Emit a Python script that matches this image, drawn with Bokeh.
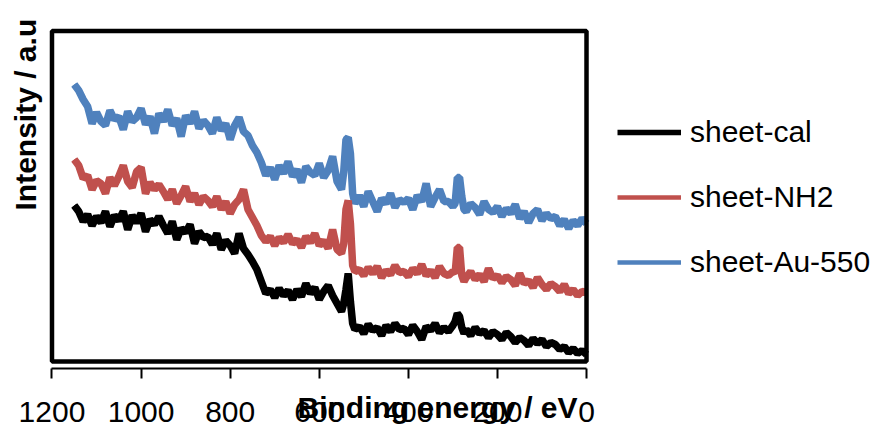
import math
from bokeh.plotting import figure
from bokeh.models import Range1d, FixedTicker, Label, BoxAnnotation, Legend, LinearAxis
from bokeh.embed import file_html
from bokeh.resources import INLINE

# Binding energy grid (eV)
energy = [1150, 1140, 1130, 1120, 1110, 1100, 1090, 1080, 1070, 1060,
          1050, 1040, 1030, 1020, 1010, 1000, 990, 980, 970, 960,
          950, 940, 930, 920, 910, 900, 890, 880, 870, 860,
          850, 840, 830, 820, 810, 800, 790, 780, 770, 760,
          750, 740, 730, 720, 710, 700, 690, 680, 670, 660,
          650, 640, 630, 620, 610, 600, 590, 580, 570, 560,
          550, 545, 540, 535, 530, 525, 520,
          510, 500, 490, 480, 470, 460, 450, 440, 430, 420,
          410, 400, 390, 380, 370, 360, 350, 340, 330, 320,
          310, 300,
          295, 290, 285, 280, 275,
          270, 260, 250, 240, 230, 220, 210, 200, 190, 180,
          170, 160, 150, 140, 130, 120, 110, 100, 90, 80,
          70, 60, 50, 40, 30, 20, 10, 0]

sheet_au_550 = [277, 271, 262, 255, 238, 249, 240, 236, 251, 242,
                245, 232, 250, 240, 244, 253, 237, 245, 228, 248,
                240, 252, 236, 243, 225, 246, 238, 250, 233, 241,
                236, 228, 244, 231, 238, 222, 236, 244, 230, 226,
                216, 209, 199, 186, 194, 182, 196, 188, 200, 185,
                192, 179, 195, 189, 186, 198, 184, 191, 205, 180,
                172, 190, 222, 224, 208, 168, 158,
                166, 155, 170, 160, 150, 163, 158, 168, 154, 162,
                159, 163, 152, 166, 160, 178, 155, 164, 172, 160,
                160, 155,
                158, 184, 184, 165, 152,
                150, 158, 154, 147, 160, 152, 149, 155, 145, 153,
                148, 157, 143, 150, 139, 148, 152, 141, 148, 143,
                145, 136, 142, 133, 141, 136, 143, 138]

sheet_nh2 = [202, 196, 183, 186, 172, 181, 178, 168, 184, 176,
             185, 196, 180, 174, 190, 194, 168, 179, 172, 177,
             170, 162, 172, 158, 166, 175, 160, 168, 157, 165,
             161, 155, 165, 152, 160, 148, 157, 162, 172, 152,
             144, 136, 126, 120, 125, 116, 124, 119, 127, 118,
             122, 114, 125, 119, 128, 116, 121, 113, 132, 112,
             108, 118, 152, 161, 138, 96, 90,
             92, 86, 94, 88, 95, 84, 91, 87, 96, 89,
             90, 85, 93, 88, 97, 86, 91, 84, 95, 88,
             86, 90,
             88, 114, 114, 86, 80,
             84, 90, 82, 87, 80, 93, 83, 86, 79, 85,
             82, 76, 88, 78, 81, 74, 84, 77, 72, 78,
             75, 70, 77, 68, 72, 66, 70, 69]

sheet_cal = [156, 150, 140, 147, 136, 145, 139, 150, 135, 146,
             141, 150, 132, 146, 139, 148, 130, 142, 137, 145,
             136, 128, 140, 122, 133, 129, 137, 118, 130, 124,
             125, 117, 128, 112, 121, 116, 108, 128, 113, 107,
             100, 92, 80, 68, 72, 64, 73, 66, 71, 62,
             72, 65, 78, 68, 74, 62, 70, 76, 66, 58,
             50, 58, 72, 88, 60, 38, 32,
             35, 28, 37, 31, 34, 26, 36, 30, 38, 32,
             33, 27, 36, 30, 22, 35, 31, 38, 29, 34,
             30, 36,
             40, 48, 45, 34, 28,
             32, 26, 34, 28, 31, 24, 30, 27, 22, 29,
             25, 19, 24, 21, 16, 23, 18, 22, 15, 19,
             17, 12, 15, 9, 13, 8, 11, 7]

x_ticks = [0, 200, 400, 600, 800, 1000, 1200]
series_names = ["sheet-cal", "sheet-NH2", "sheet-Au-550"]
series_colors = ["#000000", "#C0504D", "#4F81BD"]

FONT = "Liberation Sans"

# the frame covers the whole canvas; axis drawn at a fixed location inside it
p = figure(width=884, height=436, output_backend="svg", toolbar_location=None,
           x_range=Range1d(1315.6, -669.0), y_range=Range1d(-75, 361),
           x_axis_location=None, y_axis_location=None,
           min_border=0, min_border_left=0, min_border_right=0,
           min_border_top=0, min_border_bottom=0)
p.outline_line_color = None
p.grid.visible = False
p.background_fill_color = "white"
p.border_fill_color = "white"

ax = LinearAxis(ticker=FixedTicker(ticks=x_ticks), fixed_location=-7, bounds=(0, 1200))
ax.axis_line_color = "black"
ax.axis_line_width = 2
ax.major_tick_out = 10
ax.major_tick_in = 0
ax.major_tick_line_width = 2
ax.major_tick_line_color = "black"
ax.minor_tick_line_color = None
ax.major_label_text_font = FONT
ax.major_label_text_font_size = "30px"
ax.major_label_text_color = "black"
ax.major_label_standoff = 23
p.add_layout(ax, "below")

# thinner copies (used as legend swatches), hidden beneath the bands
lg_blue = p.line(energy, sheet_au_550, line_color=series_colors[2], line_width=4.5)
lg_red = p.line(energy, sheet_nh2, line_color=series_colors[1], line_width=4.5)
lg_black = p.line(energy, sheet_cal, line_color=series_colors[0], line_width=5.5)

p.line(energy, sheet_au_550, line_color=series_colors[2], line_width=7.5)
p.line(energy, sheet_nh2, line_color=series_colors[1], line_width=7.5)
p.line(energy, sheet_cal, line_color=series_colors[0], line_width=7.5)

box = BoxAnnotation(left=1200, right=0, bottom=0, top=330.5,
                    fill_color=None, fill_alpha=0,
                    line_color="black", line_alpha=1.0, line_width=4.5)
p.add_layout(box)

xl = Label(x=334.5, y=-46, text="Binding energy / eV", text_font=FONT,
           text_font_style="bold", text_font_size="30px", text_color="black",
           text_align="center", text_baseline="alphabetic")
p.add_layout(xl)

yl = Label(x=1259, y=151, text="Intensity / a.u", angle=math.pi / 2,
           text_font=FONT, text_font_style="bold", text_font_size="30px",
           text_color="black", text_align="left", text_baseline="alphabetic")
p.add_layout(yl)

legend = Legend(items=[(series_names[0], [lg_black]),
                       (series_names[1], [lg_red]),
                       (series_names[2], [lg_blue])],
                location=(617, 157))
legend.label_text_font = FONT
legend.label_text_font_size = "30px"
legend.label_text_color = "black"
legend.glyph_width = 64
legend.glyph_height = 30
legend.label_standoff = 9
legend.spacing = 31
legend.padding = 5
legend.margin = 0
legend.border_line_color = None
legend.background_fill_alpha = 0
p.add_layout(legend)

open("out.html", "w").write(file_html(p, INLINE))
